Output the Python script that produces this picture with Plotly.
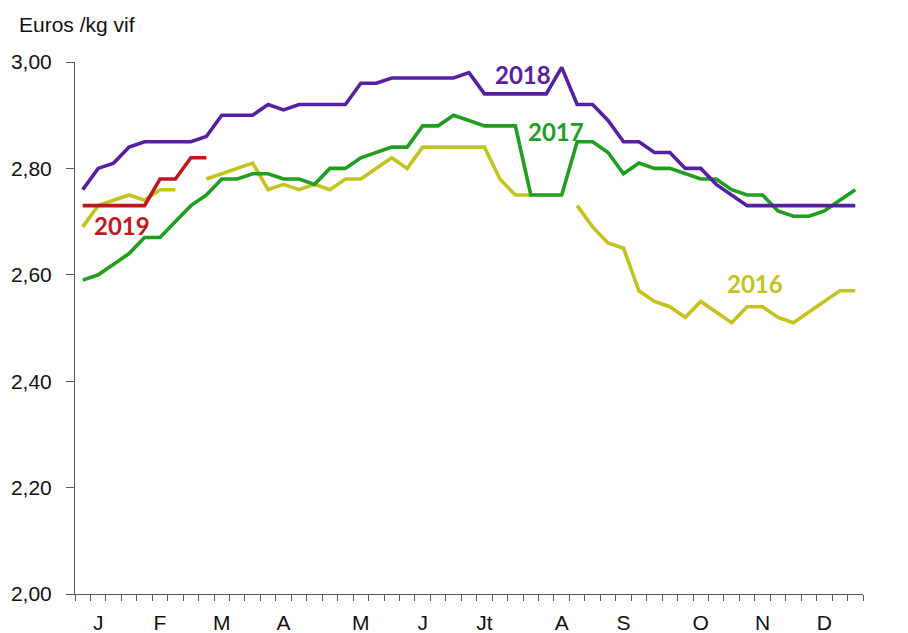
import plotly.graph_objects as go

weeks = list(range(51))

y2016 = [2.69, 2.73, 2.74, 2.75, 2.74, 2.76, 2.76, None, 2.78, 2.79,
         2.80, 2.81, 2.76, 2.77, 2.76, 2.77, 2.76, 2.78, 2.78, 2.80,
         2.82, 2.80, 2.84, 2.84, 2.84, 2.84, 2.84, 2.78, 2.75, 2.75,
         None, None, 2.73, 2.69, 2.66, 2.65, 2.57, 2.55, 2.54, 2.52,
         2.55, 2.53, 2.51, 2.54, 2.54, 2.52, 2.51, 2.53, 2.55, 2.57,
         2.57]

y2017 = [2.59, 2.60, 2.62, 2.64, 2.67, 2.67, 2.70, 2.73, 2.75, 2.78,
         2.78, 2.79, 2.79, 2.78, 2.78, 2.77, 2.80, 2.80, 2.82, 2.83,
         2.84, 2.84, 2.88, 2.88, 2.90, 2.89, 2.88, 2.88, 2.88, 2.75,
         2.75, 2.75, 2.85, 2.85, 2.83, 2.79, 2.81, 2.80, 2.80, 2.79,
         2.78, 2.78, 2.76, 2.75, 2.75, 2.72, 2.71, 2.71, 2.72, 2.74,
         2.76]

y2018 = [2.76, 2.80, 2.81, 2.84, 2.85, 2.85, 2.85, 2.85, 2.86, 2.90,
         2.90, 2.90, 2.92, 2.91, 2.92, 2.92, 2.92, 2.92, 2.96, 2.96,
         2.97, 2.97, 2.97, 2.97, 2.97, 2.98, 2.94, 2.94, 2.94, 2.94,
         2.94, 2.99, 2.92, 2.92, 2.89, 2.85, 2.85, 2.83, 2.83, 2.80,
         2.80, 2.77, 2.75, 2.73, 2.73, 2.73, 2.73, 2.73, 2.73, 2.73,
         2.73]

y2019 = [2.73, 2.73, 2.73, 2.73, 2.73, 2.78, 2.78, 2.82, 2.82]

month_pos = [1, 5, 9, 13, 18, 22, 26, 31, 35, 40, 44, 48]
month_labels = ["J", "F", "M", "A", "M", "J", "Jt", "A", "S", "O", "N", "D"]
week_bounds = [i - 0.5 for i in range(52)]

series = [
    ("2016", y2016, "#c3c31f", 43.52, 2.584),
    ("2017", y2017, "#1f9e1f", 30.61, 2.870),
    ("2018", y2018, "#5620a3", 28.48, 2.9756),
    ("2019", y2019, "#c0171f", 2.52, 2.693),
]

fig = go.Figure()
for name, vals, color, lx, ly in series:
    fig.add_trace(go.Scatter(
        x=weeks[:len(vals)], y=vals, mode="lines", name=name,
        line=dict(color=color, width=3.6), connectgaps=False,
        showlegend=False, hoverinfo="skip"))
    fig.add_annotation(x=lx, y=ly, xref="x", yref="y", text="<b>%s</b>" % name,
                       showarrow=False, xanchor="center", yanchor="middle",
                       font=dict(family="Lato", size=24, color=color))

fig.add_annotation(x=-0.0736, y=1.0714, xref="paper", yref="paper",
                   text="Euros /kg vif", showarrow=False,
                   xanchor="left", yanchor="middle",
                   font=dict(family="Liberation Sans, Arial", size=21, color="#111111"))

axis_color = "#5a5a5a"
tick_font = dict(family="Liberation Sans, Arial", size=21, color="#111111")

fig.update_layout(
    width=900, height=625,
    margin=dict(l=67, r=44.5, t=54, b=39, pad=0),
    plot_bgcolor="white", paper_bgcolor="white",
    separators=", ",
    xaxis=dict(
        range=[-0.5, 50.5], showgrid=False, zeroline=False, automargin=False,
        showline=True, linecolor=axis_color, linewidth=1,
        tickmode="array", tickvals=month_pos, ticktext=month_labels,
        ticks="", ticklabelstandoff=10, tickfont=tick_font,
        minor=dict(tickmode="array", tickvals=week_bounds, ticks="outside",
                   ticklen=6, tickcolor=axis_color, tickwidth=1, showgrid=False),
    ),
    yaxis=dict(
        range=[2.0, 3.0], showgrid=False, zeroline=False, automargin=False,
        showline=True, linecolor=axis_color, linewidth=1,
        tickmode="linear", tick0=2.0, dtick=0.2, tickformat=".2f",
        ticks="outside", ticklen=8, tickcolor=axis_color, tickwidth=1,
        ticklabelstandoff=10, tickfont=tick_font,
    ),
)

fig.write_html("out.html")
